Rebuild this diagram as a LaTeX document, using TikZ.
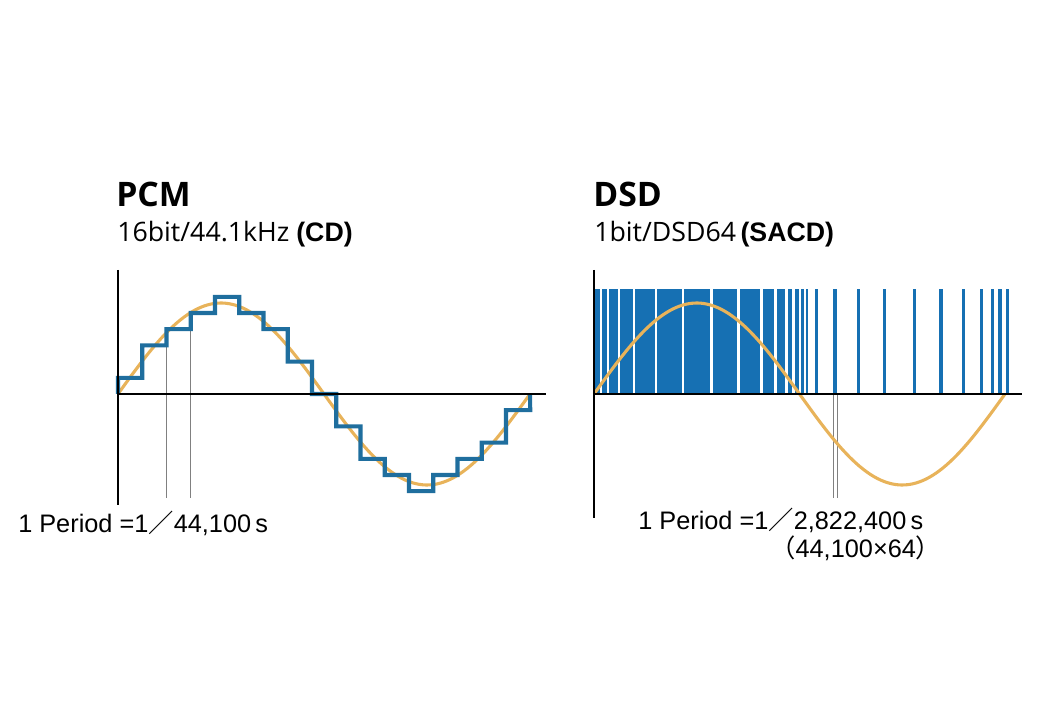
\documentclass[tikz,border=0pt]{standalone}
\usepackage{fontspec}
\setmainfont{Liberation Sans}
\newfontfamily\headfont{Open Sans}
\newfontfamily\cjk{Noto Sans CJK JP}
\usepackage{xcolor}
\usepackage{tikz}
\usetikzlibrary{positioning}
\definecolor{wavegold}{HTML}{E8B35A}
\definecolor{stairblue}{HTML}{1F6E9E}
\definecolor{pulseblue}{HTML}{1670B3}

\begin{document}
\begin{tikzpicture}[
  x=0.025cm, y=-0.025cm,
  headline/.style={anchor=base west,inner sep=0pt,font=\headfont\bfseries\fontsize{24}{28}\selectfont},
  rate/.style={anchor=base west,inner sep=0pt,font=\headfont\fontsize{19}{22}\selectfont},
  period/.style={anchor=base west,inner sep=0pt,font=\fontsize{18}{21}\selectfont},
  axis/.style={draw=black,line width=1.4pt},
  baseline/.style={draw=black,line width=1pt},
  wave/.style={draw=wavegold,line width=2.2pt},
  stair/.style={draw=stairblue,line width=2.9pt,line join=miter},
  guide/.style={draw=gray,line width=0.5pt}
]
\useasboundingbox (0,0) rectangle (1040,720);

% PCM
\node[headline] (pcm) at (116,207) {PCM};
\node[rate] (pcmrate) at (117,242) {16bit/44.1kHz {\rmfamily\bfseries (CD)}};
\draw[guide] (166,346) -- (166,498);
\draw[guide] (190,330) -- (190,498);
\draw[wave] plot[domain=0:412,samples=120] ({118+\x},{394-91*sin(\x/412*360)});
\draw[stair] (118,394) \foreach \v [count=\i from 0] in {1,3,4,5,6,5,4,2,0,-2,-4,-5,-6,-5,-4,-3,-1} {
  -- ({118+\i*24.25},{394-\v*16.2}) -- ({118+(\i+1)*24.25},{394-\v*16.2}) } -- (530,394);
\draw[axis] (118,270) -- (118,505);
\draw[baseline] (118,394) -- (546,394);
\node[period] (pcmper) at (18,533) {1 Period =1{\cjk ／}44,100\,s};

% DSD
\node[headline] (dsd) at (593,207) {DSD};
\node[rate] (dsdrate) at (594,242) {1bit/DSD64\,{\rmfamily\bfseries (SACD)}};
\foreach \a/\b in {594/600,602/607,609/618,620/633,635/655,657/682,684/710,713/737,740/760,
  763/774,777/785,788/792,795/799,801/804,806/808,815/818,833/837,857/860,883/886,913/916,
  939/943,962/965,980/983,991/994,998/1002,1006/1009}
  \fill[pulseblue] (\a,289) rectangle (\b,394);
\draw[guide] (833,394) -- (833,498);
\draw[guide] (837,394) -- (837,498);
\draw[wave] plot[domain=0:411,samples=120] ({594+\x},{394-91*sin(\x/411*360)});
\draw[axis] (594,270) -- (594,518);
\draw[baseline] (594,394) -- (1022,394);
\node[period] (dsdper) at (638,530) {1 Period =1{\cjk ／}2,822,400\,s};
\node[period] (dsdmul) at (770,558) {{\cjk （}44,100×64{\cjk ）}};
\end{tikzpicture}
\end{document}
